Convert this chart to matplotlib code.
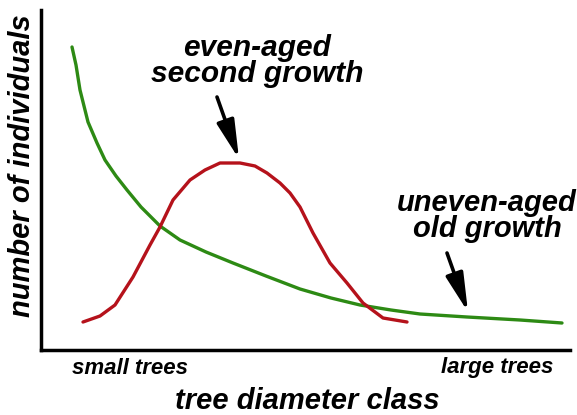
import matplotlib.pyplot as plt

# curve values (x: diameter class, y: number of individuals)
green_x = [31, 35, 39, 47, 56, 64, 75, 86, 100, 119, 139, 165, 192, 225, 259, 290, 319, 350, 379, 426, 479, 521]
green_y = [303, 285, 260, 228, 207, 190, 174, 160, 143, 124, 110, 98, 87, 74, 61, 52, 45, 40, 36, 33, 30, 27]

red_x = [42, 59, 74, 92, 109, 119, 132, 149, 164, 179, 199, 214, 226, 239, 249, 259, 272, 289, 306, 322, 342, 366]
red_y = [28, 34, 45, 73, 105, 123, 150, 170, 180, 187, 187, 184, 177, 167, 157, 143, 117, 87, 67, 47, 32, 28]

plt.rcParams['font.family'] = ['Liberation Sans', 'DejaVu Sans']
fnt = dict(fontweight='bold', fontstyle='italic')

fig = plt.figure(figsize=(5.77, 4.15), dpi=100)
ax = fig.add_axes([41 / 577, 65 / 415, 529 / 577, 340 / 415])

ax.plot(green_x, green_y, color='#2d8a14', linewidth=2.4, solid_capstyle='round')
ax.plot(red_x, red_y, color='#b5121b', linewidth=2.4, solid_capstyle='round')

ax.set_xlim(0, 529)
ax.set_ylim(0, 340)
ax.set_xticks([])
ax.set_yticks([])
for s in ['top', 'right']:
    ax.spines[s].set_visible(False)
for s in ['left', 'bottom']:
    ax.spines[s].set_linewidth(2.5)

# labels and arrows
ax.text(216, 289, 'even-aged\nsecond growth', ha='center', va='center',
        fontsize=21.5, linespacing=0.95, **fnt)
ax.text(446, 134, 'uneven-aged\nold growth', ha='center', va='center',
        fontsize=21, linespacing=0.95, **fnt)
arrow = dict(arrowstyle='-|>,head_length=1.3,head_width=0.3', color='black',
             linewidth=2.6, mutation_scale=18, shrinkA=0, shrinkB=0)
ax.annotate('', xy=(198, 191), xytext=(176, 253), arrowprops=arrow)
ax.annotate('', xy=(427, 38), xytext=(406, 97), arrowprops=arrow)

fig.text(130 / 577, 1 - 368 / 415, 'small trees', ha='center', va='center', fontsize=16, **fnt)
fig.text(497 / 577, 1 - 368 / 415, 'large trees', ha='center', va='center', fontsize=16, **fnt)
fig.text(307 / 577, 1 - 401 / 415, 'tree diameter class', ha='center', va='center', fontsize=21, **fnt)
fig.text(22 / 577, 1 - 166 / 415, 'number of individuals', ha='center', va='center',
         rotation=90, fontsize=21, **fnt)

fig.savefig('out.png', dpi=100)
